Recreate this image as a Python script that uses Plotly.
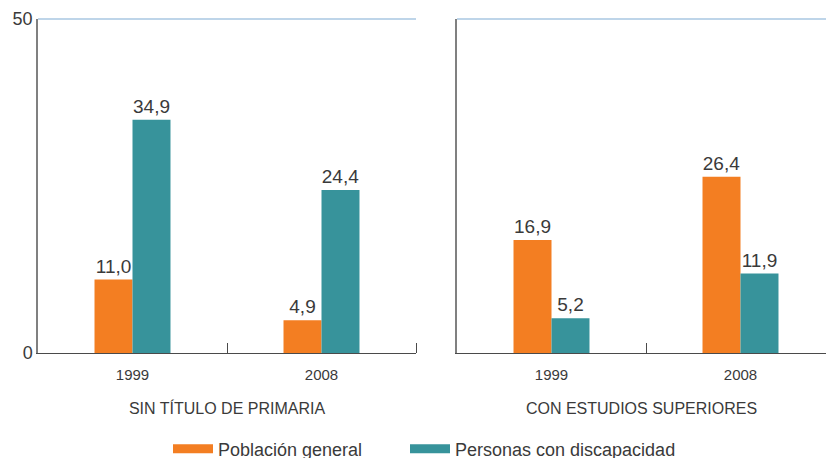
import plotly.graph_objects as go

years = ["1999", "2008"]
series_names = ["Población general", "Personas con discapacidad"]
panel_titles = ["SIN TÍTULO DE PRIMARIA", "CON ESTUDIOS SUPERIORES"]

# values per panel: [poblacion general, personas con discapacidad]
sin_primaria_general = [11.0, 4.9]
sin_primaria_discap = [34.9, 24.4]
superiores_general = [16.9, 26.4]
superiores_discap = [5.2, 11.9]

ORANGE = "#F37E22"
TEAL = "#37939B"
TEXT = "#3a3a3a"
FONT = "Liberation Sans, Arial, sans-serif"

W, H = 826, 458
ML, MR, MT, MB = 38, 0, 19, 105
PW = W - ML - MR

x_pos = [0, 1]

fig = go.Figure()

panels = [
    (sin_primaria_general, sin_primaria_discap, "x", "y"),
    (superiores_general, superiores_discap, "x2", "y2"),
]
for gen, dis, xa, ya in panels:
    for vals, color in ((gen, ORANGE), (dis, TEAL)):
        fig.add_trace(go.Bar(
            x=x_pos, y=vals, xaxis=xa, yaxis=ya,
            marker=dict(color=color, line=dict(width=0)),
            texttemplate="%{y:.1f}", textposition="outside",
            textfont=dict(size=19, color=TEXT, family=FONT),
            cliponaxis=False, showlegend=False, hoverinfo="skip",
        ))

# legend entries drawn as thick line swatches, one legend box each
for i, (name, color) in enumerate(zip(series_names, (ORANGE, TEAL))):
    fig.add_trace(go.Scatter(
        x=[None], y=[None], mode="lines", name=name,
        line=dict(color=color, width=9),
        legend="legend" if i == 0 else "legend2",
    ))

left_dom = [0, (416 - ML) / PW]
right_dom = [(457 - ML) / PW, 1]
unit = (416 - 38) / 2.0  # pixels per category
right_span = (W - 457) / unit

title_font = dict(size=16, color=TEXT, family=FONT)
xcommon = dict(
    showgrid=False, zeroline=False, showline=True, linecolor="#4a4a4a", linewidth=1,
    tickmode="array", tickvals=x_pos, ticktext=years, ticks="",
    ticklabelstandoff=8,
    tickfont=dict(size=15, color=TEXT, family=FONT),
    minor=dict(tickmode="array", tickvals=[0.5, 1.5], ticks="inside",
               ticklen=10, tickwidth=1, tickcolor="#4a4a4a"),
    fixedrange=True, automargin=False,
)
ycommon = dict(
    range=[0, 50], showgrid=False, zeroline=False, showline=True,
    linecolor="#808080", linewidth=1.5, ticks="", fixedrange=True,
    automargin=False,
)

legend_common = dict(
    orientation="h", xref="container", yref="container",
    xanchor="left", y=1 - 449 / H, yanchor="middle",
    itemwidth=40,
    font=dict(size=18, color=TEXT, family=FONT),
    bgcolor="rgba(0,0,0,0)",
)

fig.update_layout(
    width=W, height=H,
    margin=dict(l=ML, r=MR, t=MT, b=MB, pad=0, autoexpand=False),
    paper_bgcolor="white", plot_bgcolor="white",
    font=dict(family=FONT, color=TEXT),
    separators=",.",
    barmode="group", bargap=0.598, bargroupgap=0,
    xaxis=dict(domain=left_dom, range=[-0.5, 1.5], anchor="y",
               title=dict(text=panel_titles[0], standoff=20, font=title_font),
               **xcommon),
    xaxis2=dict(domain=right_dom, range=[-0.5, -0.5 + right_span], anchor="y2",
                title=dict(text=panel_titles[1], standoff=20, font=title_font),
                **xcommon),
    yaxis=dict(anchor="x", tickvals=[0, 50], ticktext=["0", "50"],
               tickfont=dict(size=18, color=TEXT, family=FONT), **ycommon),
    yaxis2=dict(anchor="x2", showticklabels=False, **ycommon),
    legend=dict(x=168 / W, **legend_common),
    legend2=dict(x=405 / W, **legend_common),
)

# light top border of each panel
for xr, yr in (("x domain", "y domain"), ("x2 domain", "y2 domain")):
    fig.add_shape(type="line", xref=xr, yref=yr, x0=0, x1=1, y0=1, y1=1,
                  line=dict(color="#a9c7e2", width=1.5))

fig.write_html("out.html")
